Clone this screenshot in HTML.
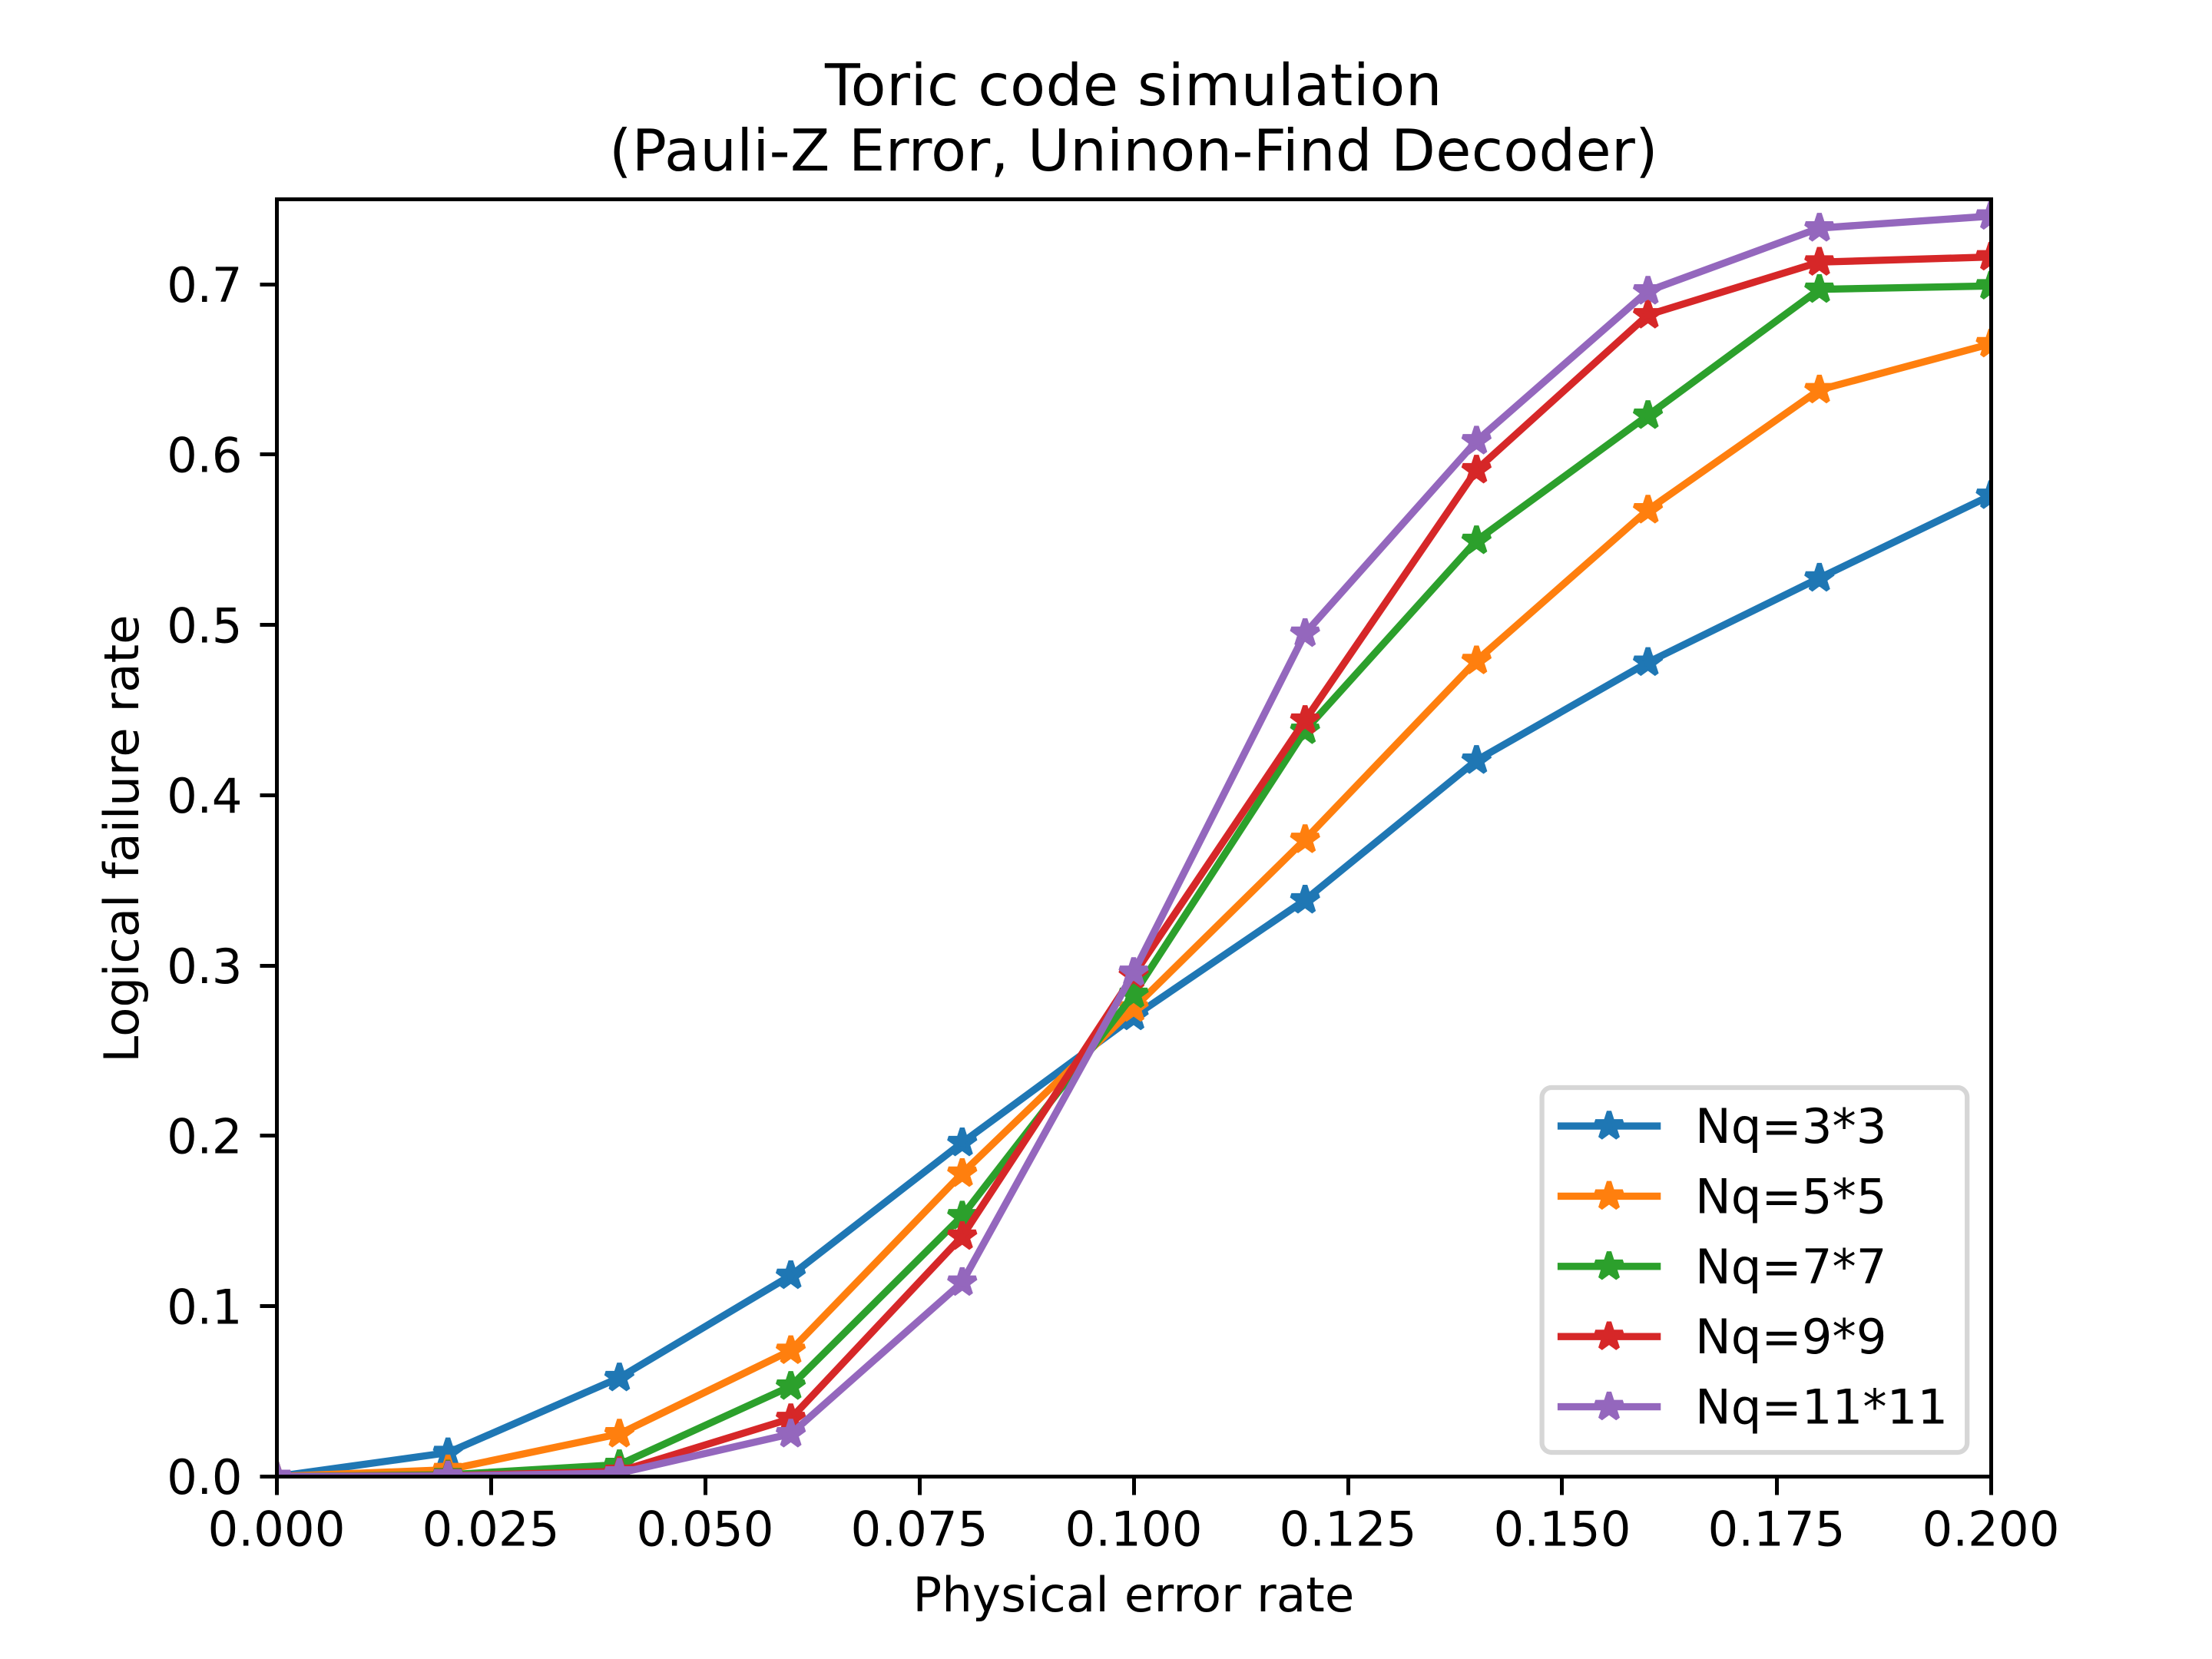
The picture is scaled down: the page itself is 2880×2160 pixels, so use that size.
<!DOCTYPE html>
<html lang="en">
<head>
<meta charset="utf-8">
<title>Toric code simulation</title>
<style>
html,body{margin:0;padding:0;background:#fff;}
svg{display:block;}
text{font-family:"DejaVu Sans","Liberation Sans",sans-serif;fill:#000;}
</style>
</head>
<body>
<svg id="chart" xmlns="http://www.w3.org/2000/svg" width="2880" height="2160" viewBox="0 0 2880 2160">
  <rect x="0" y="0" width="2880" height="2160" fill="#ffffff"/>
  <defs>
    <clipPath id="plot-clip"><rect x="360" y="259.2" width="2232" height="1663.2"/></clipPath>
  </defs>
  <g id="ticks"></g>
  <g id="series" clip-path="url(#plot-clip)"></g>
  <rect x="360.5" y="259.5" width="2232" height="1663" fill="none" stroke="#000" stroke-width="5"/>
  <text x="1476" y="137" font-size="75" text-anchor="middle" letter-spacing="0.6">Toric code simulation</text>
  <text x="1476" y="222" font-size="75" text-anchor="middle" letter-spacing="0.36">(Pauli-Z Error, Uninon-Find Decoder)</text>
  <text x="1476" y="2098" font-size="62.5" text-anchor="middle" letter-spacing="0.15">Physical error rate</text>
  <text x="0" y="0" font-size="62.5" text-anchor="middle" transform="translate(180 1092) rotate(-90)">Logical failure rate</text>
  <g id="legend"></g>
</svg>
<script>
const xValues = [0, 0.02, 0.04, 0.06, 0.08, 0.10, 0.12, 0.14, 0.16, 0.18, 0.20];
const seriesNames = ["Nq=3*3", "Nq=5*5", "Nq=7*7", "Nq=9*9", "Nq=11*11"];
const nq3 = [0, 0.014, 0.058, 0.118, 0.196, 0.270, 0.3385, 0.4205, 0.478, 0.5275, 0.576];
const nq5 = [0, 0.004, 0.025, 0.074, 0.178, 0.275, 0.374, 0.479, 0.5675, 0.638, 0.665];
const nq7 = [0, 0.001, 0.007, 0.053, 0.153, 0.283, 0.438, 0.5495, 0.623, 0.697, 0.699];
const nq9 = [0, 0.0005, 0.003, 0.034, 0.141, 0.2945, 0.444, 0.591, 0.682, 0.713, 0.716];
const nq11 = [0, 0.0003, 0.002, 0.025, 0.114, 0.296, 0.495, 0.608, 0.696, 0.733, 0.740];
const xTicks = [0, 0.025, 0.05, 0.075, 0.1, 0.125, 0.15, 0.175, 0.2];
const xTickLabels = ["0.000", "0.025", "0.050", "0.075", "0.100", "0.125", "0.150", "0.175", "0.200"];
const yTicks = [0, 0.1, 0.2, 0.3, 0.4, 0.5, 0.6, 0.7];
const yTickLabels = ["0.0", "0.1", "0.2", "0.3", "0.4", "0.5", "0.6", "0.7"];
const seriesColors = ["#1f77b4", "#ff7f0e", "#2ca02c", "#d62728", "#9467bd"];

const allSeries = [nq3, nq5, nq7, nq9, nq11];
const NS = "http://www.w3.org/2000/svg";
const plot = { left: 360, right: 2592, top: 259.2, bottom: 1922.4 };
const xDomain = [0, 0.2];
const yDomain = [0, 0.75];
const lineWidth = 9.375;
const markerRadius = 18.75;
const markerEdge = 6.25;

function sx(v) {
  return plot.left + (v - xDomain[0]) / (xDomain[1] - xDomain[0]) * (plot.right - plot.left);
}
function sy(v) {
  return plot.bottom - (v - yDomain[0]) / (yDomain[1] - yDomain[0]) * (plot.bottom - plot.top);
}
function snap(v) {
  return Math.round(v - 0.5) + 0.5;
}
function make(tag, attrs, parent) {
  const el = document.createElementNS(NS, tag);
  for (const k in attrs) el.setAttribute(k, attrs[k]);
  parent.appendChild(el);
  return el;
}
function starPoints(cx, cy) {
  const pts = [];
  const inner = markerRadius * 0.381966;
  for (let i = 0; i < 10; i++) {
    const r = i % 2 === 0 ? markerRadius : inner;
    const a = -Math.PI / 2 + i * Math.PI / 5;
    pts.push((cx + r * Math.cos(a)).toFixed(2) + "," + (cy + r * Math.sin(a)).toFixed(2));
  }
  return pts.join(" ");
}

const tickGroup = document.getElementById("ticks");
xTicks.forEach(function (t, i) {
  const x = snap(sx(t));
  const tick = make("line", { x1: x, x2: x, y1: 1922.5, y2: 1946.5, stroke: "#000", "stroke-width": 5 }, tickGroup);
  
  
  const label = make("text", { x: sx(t), y: 2012.5, "font-size": 62.5, "text-anchor": "middle" }, tickGroup);
  label.textContent = xTickLabels[i];
  
  
});
yTicks.forEach(function (t, i) {
  const y = snap(sy(t));
  const tick = make("line", { x1: 338.5, x2: 360.5, y1: y, y2: y, stroke: "#000", "stroke-width": 5 }, tickGroup);
  
  
  const label = make("text", { x: 315, y: sy(t) + 22.8, "font-size": 62.5, "text-anchor": "end", "letter-spacing": -0.5 }, tickGroup);
  label.textContent = yTickLabels[i];
  
  
});

const seriesGroup = document.getElementById("series");
allSeries.forEach(function (values, s) {
  const color = seriesColors[s];
  const g = make("g", {}, seriesGroup);
  
  
  const pts = values.map(function (v, i) {
    return sx(xValues[i]).toFixed(2) + "," + sy(v).toFixed(2);
  }).join(" ");
  const line = make("polyline", {
    points: pts, fill: "none", stroke: color, "stroke-width": lineWidth,
    "stroke-linejoin": "round", "stroke-linecap": "square"
  }, g);
  
  
  values.forEach(function (v, i) {
    const star = make("polygon", {
      points: starPoints(sx(xValues[i]), sy(v)), fill: color, stroke: color,
      "stroke-width": markerEdge, "stroke-linejoin": "bevel"
    }, g);
    
    
  });
});

const legendGroup = document.getElementById("legend");
const legendFrame = make("rect", {
  x: 2007.6, y: 1416, width: 553.6, height: 475, rx: 12.5, ry: 12.5,
  fill: "rgba(255,255,255,0.8)", stroke: "#d6d6d6", "stroke-width": 6.25
}, legendGroup);


seriesNames.forEach(function (name, i) {
  const y = 1466 + i * 91.4;
  const entry = make("g", {}, legendGroup);
  
  
  const handle = make("line", {
    x1: 2032.6, x2: 2157.6, y1: y, y2: y, stroke: seriesColors[i],
    "stroke-width": lineWidth, "stroke-linecap": "square"
  }, entry);
  
  
  const star = make("polygon", {
    points: starPoints(2095, y), fill: seriesColors[i], stroke: seriesColors[i],
    "stroke-width": markerEdge, "stroke-linejoin": "bevel"
  }, entry);
  
  
  const label = make("text", { x: 2207, y: y + 22, "font-size": 62.5 }, entry);
  label.textContent = name;
  
  
});
</script>
</body>
</html>
